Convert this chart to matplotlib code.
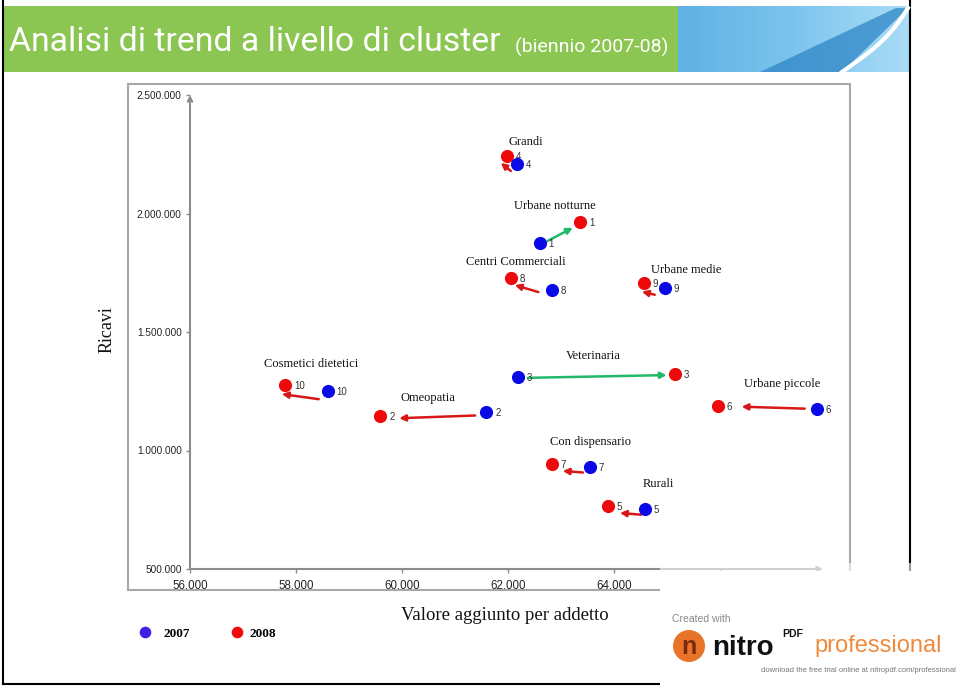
import numpy as np
import matplotlib
matplotlib.use("Agg")
import matplotlib.pyplot as plt
from matplotlib.patches import Rectangle, Circle, Polygon
from matplotlib.ticker import FuncFormatter
from matplotlib.transforms import offset_copy

# Cluster data: value added per employee (x) and revenue (y), 2007 vs 2008
cluster_ids = [1, 2, 3, 4, 5, 6, 7, 8, 9, 10]
clusters = ['Urbane notturne', 'Omeopatia', 'Veterinaria', 'Grandi', 'Rurali',
            'Urbane piccole', 'Con dispensario', 'Centri Commerciali',
            'Urbane medie', 'Cosmetici dietetici']
va_2007 = [62600, 61590, 62190, 62170, 64590, 67830, 63550, 62830, 64960, 58600]
ricavi_2007 = [1875000, 1162000, 1310000, 2209000, 753000, 1175000, 930000, 1677000, 1686000, 1251000]
va_2008 = [63360, 59590, 65150, 61980, 63890, 65960, 62830, 62060, 64570, 57790]
ricavi_2008 = [1964000, 1146000, 1323000, 2243000, 766000, 1188000, 943000, 1728000, 1707000, 1276000]

x_ticks = [56000, 58000, 60000, 62000, 64000, 66000]
y_ticks = [500000, 1000000, 1500000, 2000000, 2500000]

# label placement (pixels: dx, dy downwards) relative to the pair midpoint
name_off = [(-5, -27), (-5, -16), (-3, -19), (14, -18), (32, -23),
            (15, -23), (20, -24), (-16, -22), (32, -15), (5, -24)]
# arrow offset (pixels) and shrink at start/end (pixels)
arrow_off = [(0, 2), (0, 3), (0, 1), (-6, 7), (0, 6), (0, 0), (0, 6), (0, 6), (-5, 8), (-3, 9)]
arrow_shrink = [(9, 8), (11, 19), (10, 8), (0, 0), (4, 12), (12, 24), (7, 11), (14, 4), (5, 3), (6, 0)]

BLUE = '#0a0ae6'
RED = '#ee0a0a'
GREEN = '#22b86a'
ARROW_RED = '#d81818'
GRAY = '#8c8c8c'
PX = 0.72  # points per pixel at dpi 100
SANS = ['Liberation Sans', 'DejaVu Sans']
SERIF = ['Liberation Serif', 'DejaVu Serif']

W, H = 960, 686
fig = plt.figure(figsize=(W / 100, H / 100), dpi=100)

# background overlay in pixel coordinates
bg = fig.add_axes([0, 0, 1, 1], zorder=0)
bg.set_xlim(0, W)
bg.set_ylim(H, 0)
bg.axis('off')

# title banner
bg.add_patch(Rectangle((3, 6), 675, 66, color='#8cc652', lw=0))
grad = np.linspace(0, 1, 200)[None, :]
bg.imshow(grad, extent=(678, 909, 72, 6), cmap=matplotlib.colors.LinearSegmentedColormap.from_list(
    'b', ['#5fb2e4', '#7cc4ee', '#a9dcf6']), aspect='auto', zorder=1)
bg.add_patch(Polygon([(760, 72), (842, 72), (908, 8), (896, 8)], color='#2f86c6', alpha=0.75, lw=0, zorder=2))
tt = np.linspace(0, 1, 30)
bg.plot(908 - 66 * tt + 8 * np.sin(np.pi * tt), 8 + 64 * tt, color='white', lw=3, zorder=3)
bg.text(9, 42, 'Analisi di trend a livello di cluster', color='white', fontsize=24.3,
        family=['Roboto', 'DejaVu Sans'], va='center', ha='left', zorder=4)
bg.text(515, 47, '(biennio 2007-08)', color='white', fontsize=14,
        family=['Roboto', 'DejaVu Sans'], va='center', ha='left', zorder=4)

# page borders
bg.plot([3, 3], [0, 684], color='black', lw=1.5)
bg.plot([910, 910], [0, 684], color='black', lw=1.5)
bg.plot([3, 910], [684, 684], color='black', lw=1.5)
# chart frame
bg.add_patch(Rectangle((128, 84), 722, 506, fill=False, ec='#a8a8a8', lw=1.5))

# main axes
ax = fig.add_axes([190 / W, (H - 569) / H, (823 - 190) / W, (569 - 95) / H], zorder=1)
ax.set_facecolor('none')
ax.set_xlim(56000, 67950)
ax.set_ylim(500000, 2500000)
for s in ax.spines.values():
    s.set_visible(False)
ax.annotate('', xy=(1, 0), xytext=(0, 0), xycoords='axes fraction',
            arrowprops=dict(arrowstyle='->', color=GRAY, lw=1.5, shrinkA=0, shrinkB=0, mutation_scale=8))
ax.annotate('', xy=(0, 1), xytext=(0, 0), xycoords='axes fraction',
            arrowprops=dict(arrowstyle='->', color=GRAY, lw=1.5, shrinkA=0, shrinkB=0, mutation_scale=8))

fmt = FuncFormatter(lambda v, p: f"{v:,.0f}".replace(',', '.'))
ax.set_xticks(x_ticks)
ax.set_yticks(y_ticks)
ax.xaxis.set_major_formatter(fmt)
ax.yaxis.set_major_formatter(fmt)
ax.tick_params(direction='out', length=3, width=1, color=GRAY, labelcolor='#222222')
ax.tick_params(axis='y', pad=3, labelsize=7.2)
ax.tick_params(axis='x', pad=5, labelsize=8.3)
for lab in ax.get_xticklabels() + ax.get_yticklabels():
    lab.set_family(SANS)

for i, cid in enumerate(cluster_ids):
    x7, y7 = va_2007[i], ricavi_2007[i]
    x8, y8 = va_2008[i], ricavi_2008[i]
    col = GREEN if x8 > x7 else ARROW_RED
    dx, dy = arrow_off[i]
    tr = offset_copy(ax.transData, fig=fig, x=dx, y=-dy, units='dots')
    sa, sb = arrow_shrink[i]
    ax.annotate('', xy=(x8, y8), xytext=(x7, y7), xycoords=tr, textcoords=tr,
                arrowprops=dict(arrowstyle='-|>', color=col, lw=1.8, mutation_scale=9,
                                shrinkA=sa * PX, shrinkB=sb * PX), zorder=2)
    # cluster numbers
    for (xx, yy) in [(x8, y8), (x7, y7)]:
        ax.annotate(str(cid), xy=(xx, yy), xytext=(9 * PX, -1 * PX), textcoords='offset points',
                    fontsize=7, color='#333333', ha='left', va='center',
                    family=SANS, zorder=3.5)
    # cluster name
    mx, my = (x7 + x8) / 2, (y7 + y8) / 2
    ndx, ndy = name_off[i]
    ax.annotate(clusters[i], xy=(mx, my), xytext=(ndx * PX, -ndy * PX), textcoords='offset points',
                fontsize=9, ha='center', va='center', family=SERIF, color='#111111', zorder=4)

ax.scatter(va_2008, ricavi_2008, s=90, color=RED, zorder=3, linewidths=0)
ax.scatter(va_2007, ricavi_2007, s=90, color=BLUE, zorder=4, linewidths=0)

# axis titles and legend
fg = fig.add_axes([0, 0, 1, 1], zorder=3)
fg.set_xlim(0, W)
fg.set_ylim(H, 0)
fg.axis('off')
fg.text(107, 330, 'Ricavi', rotation=90, fontsize=13, family=SERIF, ha='center', va='center', color='#111111')
fg.text(505, 616, 'Valore aggiunto per addetto', fontsize=13.5, family=SERIF, ha='center', va='center',
        color='#111111')
fg.scatter([145], [632], s=70, color='#3a22e0', linewidths=0)
fg.text(164, 634, '2007', fontsize=9.5, family=SERIF, weight='bold', ha='left', va='center')
fg.scatter([237], [632], s=70, color=RED, linewidths=0)
fg.text(250, 634, '2008', fontsize=9.5, family=SERIF, weight='bold', ha='left', va='center')

# watermark box
fg.add_patch(Rectangle((660, 563), 300, 8, color='white', alpha=0.6, lw=0))
fg.add_patch(Rectangle((660, 571), 300, 115, color='white', lw=0))
fg.add_patch(Circle((689, 646), 16, color='#e8742a', lw=0))
fg.text(689, 647, 'n', color='#7a2a08', fontsize=18, weight='bold', ha='center', va='center', family=SANS)
fg.text(672, 619, 'Created with', color='#888888', fontsize=7.5, ha='left', va='center', family=SANS)
fg.text(712, 648, 'nitro', color='#111111', fontsize=20, weight='bold', ha='left', va='center', family=SANS)
fg.text(782, 634, 'PDF', color='#111111', fontsize=7.5, weight='bold', ha='left', va='center', family=SANS)
fg.text(814, 646, 'professional', color='#f08a3c', fontsize=17, ha='left', va='center', family=SANS)
fg.text(956, 671, 'download the free trial online at nitropdf.com/professional', color='#777777',
        fontsize=5.5, ha='right', va='center', family=SANS)

fig.savefig('out.png', dpi=100, facecolor='white')
